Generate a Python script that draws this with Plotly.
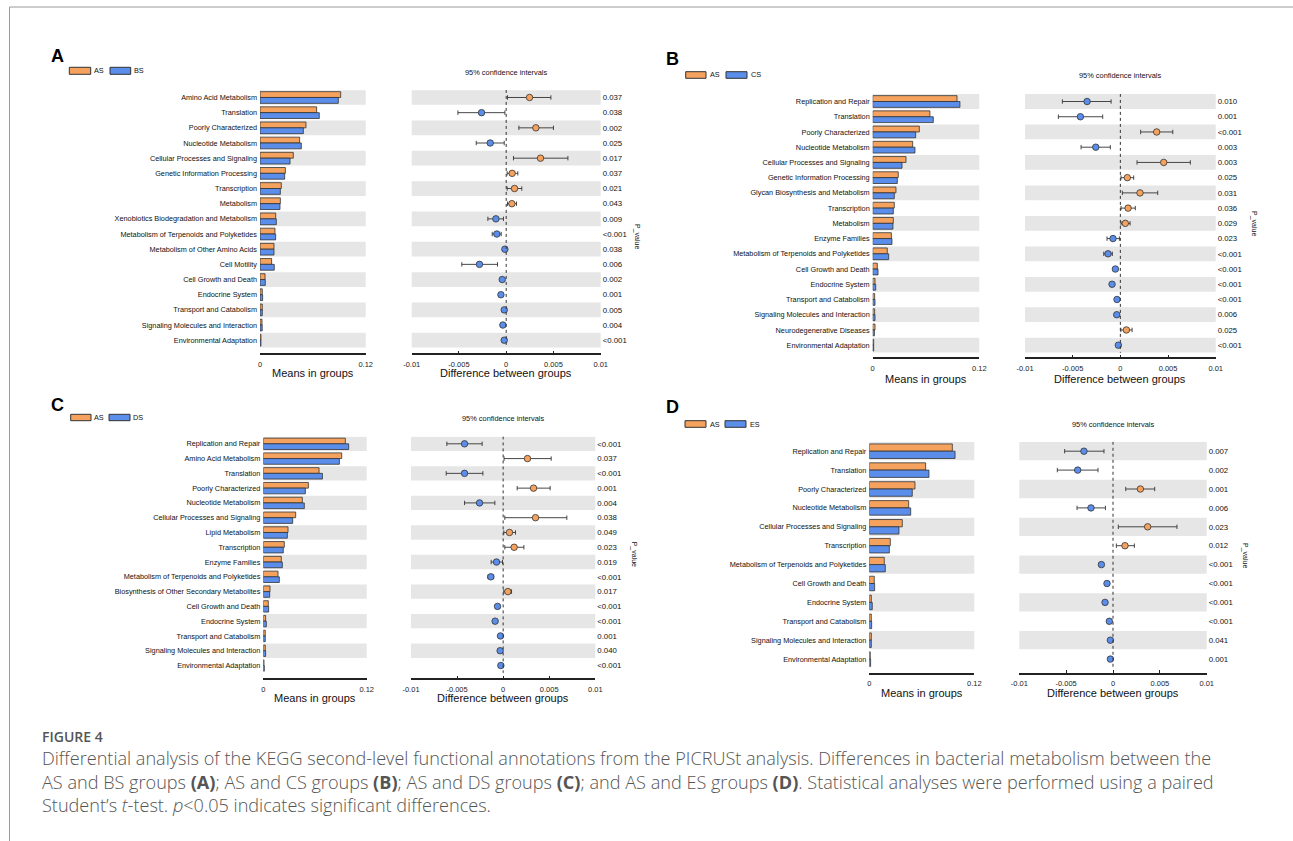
import plotly.graph_objects as go

W, H = 1293, 841
ORANGE = "#F4A25E"
BLUE = "#5B8DEA"
EDGE = "#333333"
STRIPE = "#E6E6E6"
FONT = "Arial, Liberation Sans, sans-serif"

# ---------------- Panel A: AS vs BS ----------------
a_cats = ["Amino Acid Metabolism", "Translation", "Poorly Characterized", "Nucleotide Metabolism",
          "Cellular Processes and Signaling", "Genetic Information Processing", "Transcription",
          "Metabolism", "Xenobiotics Biodegradation and Metabolism",
          "Metabolism of Terpenoids and Polyketides", "Metabolism of Other Amino Acids",
          "Cell Motility", "Cell Growth and Death", "Endocrine System", "Transport and Catabolism",
          "Signaling Molecules and Interaction", "Environmental Adaptation"]
a_as = [0.0916, 0.0643, 0.0522, 0.0450, 0.0378, 0.0288, 0.0242, 0.0231, 0.0178, 0.0170, 0.0159,
        0.0132, 0.0057, 0.0026, 0.0026, 0.0023, 0.0011]
a_bs = [0.0889, 0.0673, 0.0492, 0.0469, 0.0341, 0.0280, 0.0231, 0.0227, 0.0185, 0.0178, 0.0159,
        0.0162, 0.0060, 0.0030, 0.0026, 0.0025, 0.0011]
a_diff = [0.00247, -0.00261, 0.00314, -0.00169, 0.00363, 0.00063, 0.00088, 0.00060, -0.00109,
          -0.00099, -0.00014, -0.00283, -0.00042, -0.00056, -0.00021, -0.00035, -0.00021]
a_lo = [0.00014, -0.00511, 0.00134, -0.00317, 0.00077, 0.00010, 0.00010, 0.00014, -0.00194,
        -0.00148, -0.00022, -0.00470, -0.00052, -0.00066, -0.00029, -0.00045, -0.00029]
a_hi = [0.00473, -0.00014, 0.00500, -0.00021, 0.00653, 0.00123, 0.00165, 0.00109, -0.00029,
        -0.00053, -0.00006, -0.00092, -0.00032, -0.00046, -0.00013, -0.00025, -0.00013]
a_p = ["0.037", "0.038", "0.002", "0.025", "0.017", "0.037", "0.021", "0.043", "0.009", "<0.001",
       "0.038", "0.006", "0.002", "0.001", "0.005", "0.004", "<0.001"]

# ---------------- Panel B: AS vs CS ----------------
b_cats = ["Replication and Repair", "Translation", "Poorly Characterized", "Nucleotide Metabolism",
          "Cellular Processes and Signaling", "Genetic Information Processing",
          "Glycan Biosynthesis and Metabolism", "Transcription", "Metabolism", "Enzyme Families",
          "Metabolism of Terpenoids and Polyketides", "Cell Growth and Death", "Endocrine System",
          "Transport and Catabolism", "Signaling Molecules and Interaction",
          "Neurodegenerative Diseases", "Environmental Adaptation"]
b_as = [0.0949, 0.0644, 0.0525, 0.0450, 0.0375, 0.0288, 0.0262, 0.0243, 0.0232, 0.0210, 0.0164,
        0.0052, 0.0026, 0.0022, 0.0022, 0.0026, 0.0011]
b_cs = [0.0982, 0.0682, 0.0484, 0.0476, 0.0330, 0.0277, 0.0243, 0.0232, 0.0228, 0.0217, 0.0180,
        0.0060, 0.0034, 0.0026, 0.0026, 0.0019, 0.0011]
b_diff = [-0.00349, -0.00419, 0.00381, -0.00258, 0.00455, 0.00073, 0.00206, 0.00081, 0.00052,
          -0.00077, -0.00129, -0.00052, -0.00087, -0.00035, -0.00038, 0.00063, -0.00021]
b_lo = [-0.00608, -0.00650, 0.00213, -0.00412, 0.00175, 0.00007, 0.00021, 0.00007, 0.00007,
        -0.00140, -0.00174, -0.00062, -0.00097, -0.00043, -0.00046, 0.00005, -0.00029]
b_hi = [-0.00097, -0.00185, 0.00550, -0.00105, 0.00734, 0.00140, 0.00392, 0.00157, 0.00102,
        -0.00010, -0.00084, -0.00042, -0.00077, -0.00027, -0.00030, 0.00123, -0.00013]
b_p = ["0.010", "0.001", "<0.001", "0.003", "0.003", "0.025", "0.031", "0.036", "0.029", "0.023",
       "<0.001", "<0.001", "<0.001", "<0.001", "0.006", "0.025", "<0.001"]

# ---------------- Panel C: AS vs DS ----------------
c_cats = ["Replication and Repair", "Amino Acid Metabolism", "Translation", "Poorly Characterized",
          "Nucleotide Metabolism", "Cellular Processes and Signaling", "Lipid Metabolism",
          "Transcription", "Enzyme Families", "Metabolism of Terpenoids and Polyketides",
          "Biosynthesis of Other Secondary Metabolites", "Cell Growth and Death",
          "Endocrine System", "Transport and Catabolism", "Signaling Molecules and Interaction",
          "Environmental Adaptation"]
c_as = [0.0952, 0.0910, 0.0647, 0.0523, 0.0453, 0.0376, 0.0287, 0.0244, 0.0209, 0.0171, 0.0078,
        0.0058, 0.0027, 0.0023, 0.0023, 0.0008]
c_ds = [0.0991, 0.0883, 0.0686, 0.0488, 0.0476, 0.0341, 0.0279, 0.0232, 0.0221, 0.0186, 0.0074,
        0.0062, 0.0035, 0.0023, 0.0027, 0.0012]
c_diff = [-0.00419, 0.00264, -0.00419, 0.00330, -0.00256, 0.00351, 0.00069, 0.00119, -0.00072,
          -0.00134, 0.00051, -0.00061, -0.00087, -0.00029, -0.00033, -0.00025]
c_lo = [-0.00611, 0.00010, -0.00618, 0.00152, -0.00419, 0.00018, 0.00007, 0.00018, -0.00130,
        -0.00165, 0.00007, -0.00071, -0.00097, -0.00037, -0.00041, -0.00033]
c_hi = [-0.00228, 0.00521, -0.00220, 0.00510, -0.00090, 0.00691, 0.00134, 0.00225, -0.00007,
        -0.00103, 0.00091, -0.00051, -0.00077, -0.00021, -0.00025, -0.00017]
c_p = ["<0.001", "0.037", "<0.001", "0.001", "0.004", "0.038", "0.049", "0.023", "0.019", "<0.001",
       "0.017", "<0.001", "<0.001", "0.001", "0.040", "<0.001"]

# ---------------- Panel D: AS vs ES ----------------
d_cats = ["Replication and Repair", "Translation", "Poorly Characterized", "Nucleotide Metabolism",
          "Cellular Processes and Signaling", "Transcription",
          "Metabolism of Terpenoids and Polyketides", "Cell Growth and Death", "Endocrine System",
          "Transport and Catabolism", "Signaling Molecules and Interaction",
          "Environmental Adaptation"]
d_as = [0.0949, 0.0644, 0.0522, 0.0450, 0.0377, 0.0240, 0.0171, 0.0057, 0.0023, 0.0023, 0.0023,
        0.0011]
d_es = [0.0980, 0.0682, 0.0491, 0.0473, 0.0339, 0.0229, 0.0183, 0.0061, 0.0034, 0.0027, 0.0023,
        0.0015]
d_diff = [-0.00310, -0.00377, 0.00292, -0.00235, 0.00370, 0.00128, -0.00124, -0.00064, -0.00085,
          -0.00039, -0.00028, -0.00028]
d_lo = [-0.00516, -0.00594, 0.00136, -0.00384, 0.00057, 0.00036, -0.00132, -0.00072, -0.00093,
        -0.00047, -0.00036, -0.00036]
d_hi = [-0.00096, -0.00160, 0.00445, -0.00081, 0.00683, 0.00228, -0.00116, -0.00056, -0.00077,
        -0.00031, -0.00020, -0.00020]
d_p = ["0.007", "0.002", "0.001", "0.006", "0.023", "0.012", "<0.001", "<0.001", "<0.001",
       "<0.001", "0.041", "0.001"]

bar_ticks = [0, 0.12]
bar_ticktext = ["0", "0.12"]
diff_ticks = [-0.01, -0.005, 0, 0.005, 0.01]
diff_ticktext = ["-0.01", "-0.005", "0", "0.005", "0.01"]

# ---------------- pixel layout of each panel ----------------
panels = [
    dict(letter="A", cats=a_cats, g1=a_as, g2=a_bs, name2="BS", diff=a_diff, lo=a_lo, hi=a_hi, p=a_p,
         let=(52, 56.5), leg_y=(67.3, 74.3), sw1=(69.3, 90.7), t1=94, sw2=(110, 130.7), t2=134,
         bar_x=(260, 365.7), diff_x=(411.7, 600.7), first=97.5, pitch=15.17, axis_y=353.3,
         title_y=373, ci_y=72.3, pv=(637, 236)),
    dict(letter="B", cats=b_cats, g1=b_as, g2=b_cs, name2="CS", diff=b_diff, lo=b_lo, hi=b_hi, p=b_p,
         let=(667, 59), leg_y=(71.7, 78.3), sw1=(685.7, 706), t1=710, sw2=(726, 747), t2=751,
         bar_x=(872.7, 979.3), diff_x=(1025, 1215.7), first=101.5, pitch=15.23, axis_y=357.3,
         title_y=379, ci_y=76, pv=(1254, 223)),
    dict(letter="C", cats=c_cats, g1=c_as, g2=c_ds, name2="DS", diff=c_diff, lo=c_lo, hi=c_hi, p=c_p,
         let=(52, 405), leg_y=(414.3, 420.7), sw1=(70.7, 91), t1=94, sw2=(109, 130), t2=133,
         bar_x=(263.3, 366.7), diff_x=(411, 595.3), first=443.8, pitch=14.78, axis_y=678.3,
         title_y=697.7, ci_y=418.3, pv=(634.3, 554)),
    dict(letter="D", cats=d_cats, g1=d_as, g2=d_es, name2="ES", diff=d_diff, lo=d_lo, hi=d_hi, p=d_p,
         let=(667, 406.5), leg_y=(420.7, 427.3), sw1=(685, 706), t1=710, sw2=(725, 746), t2=750,
         bar_x=(869.3, 974.3), diff_x=(1019.3, 1206.7), first=451.2, pitch=18.9, axis_y=672.7,
         title_y=693.3, ci_y=424.3, pv=(1245, 555)),
]


def px(x):
    return x / W


def py(y):
    return 1 - y / H


def ax_id(i):
    return "" if i == 1 else str(i)


fig = go.Figure()
shapes = []
annotations = []
layout = {}

for k, P in enumerate(panels):
    nb, nd = 2 * k + 1, 2 * k + 2
    xb, yb = "x" + ax_id(nb), "y" + ax_id(nb)
    xd, yd = "x" + ax_id(nd), "y" + ax_id(nd)
    n = len(P["cats"])
    rows = [-i for i in range(n)]
    top = P["first"] - P["pitch"] / 2
    ybottom_val = 0.5 - (P["axis_y"] - top) / P["pitch"]
    ydom = [py(P["axis_y"]), py(top)]

    # bars
    fig.add_trace(go.Bar(x=P["g1"], y=rows, orientation="h", width=0.385, offset=0.0,
                         marker=dict(color=ORANGE, line=dict(color=EDGE, width=0.8)),
                         xaxis=xb, yaxis=yb, showlegend=False, name="AS"))
    fig.add_trace(go.Bar(x=P["g2"], y=rows, orientation="h", width=0.385, offset=-0.385,
                         marker=dict(color=BLUE, line=dict(color=EDGE, width=0.8)),
                         xaxis=xb, yaxis=yb, showlegend=False, name=P["name2"]))
    # difference with CI
    cols = [ORANGE if d > 0 else BLUE for d in P["diff"]]
    fig.add_trace(go.Scatter(
        x=P["diff"], y=rows, mode="markers", xaxis=xd, yaxis=yd, showlegend=False,
        marker=dict(size=6.5, color=cols, line=dict(color=EDGE, width=0.8)),
        error_x=dict(type="data", symmetric=False,
                     array=[h - d for h, d in zip(P["hi"], P["diff"])],
                     arrayminus=[d - l for d, l in zip(P["diff"], P["lo"])],
                     color=EDGE, thickness=0.9, width=2.2)))

    common_x = dict(showgrid=False, zeroline=False, showline=True, linecolor="#222", linewidth=1.5,
                    ticks="inside", ticklen=3, tickwidth=1, tickcolor="#222", automargin=False,
                    tickfont=dict(family=FONT, size=7.5, color="#222"), ticklabelstandoff=3,
                    fixedrange=True)
    layout["xaxis" + ax_id(nb)] = dict(common_x, domain=[px(P["bar_x"][0]), px(P["bar_x"][1])],
                                       range=[0, 0.12], tickvals=bar_ticks,
                                       ticktext=bar_ticktext, anchor=yb)
    layout["xaxis" + ax_id(nd)] = dict(common_x, domain=[px(P["diff_x"][0]), px(P["diff_x"][1])],
                                       range=[-0.01, 0.01], tickvals=diff_ticks,
                                       ticktext=diff_ticktext, anchor=yd)
    layout["yaxis" + ax_id(nb)] = dict(domain=ydom, range=[ybottom_val, 0.5], anchor=xb,
                                       tickvals=rows, ticktext=P["cats"], ticks="",
                                       showgrid=False, zeroline=False, showline=False,
                                       ticklabelstandoff=2, automargin=False,
                                       tickfont=dict(family=FONT, size=7.3, color="#111"),
                                       fixedrange=True)
    layout["yaxis" + ax_id(nd)] = dict(domain=ydom, range=[ybottom_val, 0.5], anchor=xd,
                                       side="right", tickvals=rows,
                                       ticktext=[s.replace("<", "&lt;") for s in P["p"]],
                                       ticks="", showgrid=False, zeroline=False, showline=False,
                                       ticklabelstandoff=1, automargin=False,
                                       tickfont=dict(family=FONT, size=7.8, color="#111"),
                                       fixedrange=True)

    # stripes
    for i in range(0, n, 2):
        for xr, yr in ((xb, yb), (xd, yd)):
            shapes.append(dict(type="rect", xref=f"{xr} domain", yref=yr, x0=0, x1=1,
                               y0=-i - 0.485, y1=-i + 0.485, fillcolor=STRIPE,
                               line=dict(width=0), layer="below"))
    # dashed zero line
    shapes.append(dict(type="line", xref=xd, yref=yd, x0=0, x1=0, y0=0.5, y1=-(n - 1) - 0.5,
                       line=dict(color=EDGE, width=1, dash="dot")))

    # legend swatches
    for (x0, x1), col, lbl, tx in ((P["sw1"], ORANGE, "AS", P["t1"]),
                                   (P["sw2"], BLUE, P["name2"], P["t2"])):
        shapes.append(dict(type="rect", xref="paper", yref="paper", x0=px(x0), x1=px(x1),
                           y0=py(P["leg_y"][1]), y1=py(P["leg_y"][0]), fillcolor=col,
                           line=dict(color=EDGE, width=1)))
        annotations.append(dict(x=px(tx - 2), y=py(sum(P["leg_y"]) / 2), xref="paper",
                                yref="paper", text=lbl, showarrow=False, xanchor="left",
                                yanchor="middle", font=dict(family=FONT, size=7.3, color="#111")))
    # panel letter
    annotations.append(dict(x=px(P["let"][0] - 3), y=py(P["let"][1]), xref="paper", yref="paper",
                            text=f"<b>{P['letter']}</b>", showarrow=False, xanchor="left",
                            yanchor="middle", font=dict(family=FONT, size=18, color="#000")))
    # titles
    annotations.append(dict(x=px((P["diff_x"][0] + P["diff_x"][1]) / 2), y=py(P["ci_y"]),
                            xref="paper", yref="paper", text="95% confidence intervals",
                            showarrow=False, xanchor="center", yanchor="middle",
                            font=dict(family=FONT, size=7.4, color="#111")))
    annotations.append(dict(x=px((P["bar_x"][0] + P["bar_x"][1]) / 2), y=py(P["title_y"]),
                            xref="paper", yref="paper", text="Means in groups", showarrow=False,
                            xanchor="center", yanchor="middle",
                            font=dict(family=FONT, size=11, color="#111")))
    annotations.append(dict(x=px((P["diff_x"][0] + P["diff_x"][1]) / 2), y=py(P["title_y"]),
                            xref="paper", yref="paper", text="Difference between groups",
                            showarrow=False, xanchor="center", yanchor="middle",
                            font=dict(family=FONT, size=11, color="#111")))
    annotations.append(dict(x=px(P["pv"][0]), y=py(P["pv"][1]), xref="paper", yref="paper",
                            text="P_value", showarrow=False, textangle=90, xanchor="center",
                            yanchor="middle", font=dict(family=FONT, size=7, color="#111")))

# frame lines
shapes.append(dict(type="line", xref="paper", yref="paper", x0=px(9.5), x1=1, y0=py(7), y1=py(7),
                   line=dict(color="#9a9a9a", width=1)))
shapes.append(dict(type="line", xref="paper", yref="paper", x0=px(9.5), x1=px(9.5), y0=py(7), y1=0,
                   line=dict(color="#9a9a9a", width=1)))

# caption
CAP = "Open Sans, sans-serif"
caption_lines = [
    "Differential analysis of the KEGG second-level functional annotations from the PICRUSt analysis. "
    "Differences in bacterial metabolism between the",
    "AS and BS groups <b>(A)</b>; AS and CS groups <b>(B)</b>; AS and DS groups <b>(C)</b>; and AS and "
    "ES groups <b>(D)</b>. Statistical analyses were performed using a paired",
    "Student’s <i>t</i>-test. <i>p</i>&lt;0.05 indicates significant differences.",
]
annotations.append(dict(x=px(40), y=py(736), xref="paper", yref="paper", text="FIGURE 4",
                        showarrow=False, xanchor="left", yanchor="middle",
                        font=dict(family=CAP, size=14, color="#555", weight=600)))
for yy, line in zip((758, 781.7, 805), caption_lines):
    annotations.append(dict(x=px(40), y=py(yy), xref="paper", yref="paper", text=line,
                            showarrow=False, xanchor="left", yanchor="middle",
                            font=dict(family=CAP, size=18.1, color="#555", weight=300)))

fig.update_layout(
    width=W, height=H, margin=dict(l=0, r=0, t=0, b=0, pad=0, autoexpand=False),
    paper_bgcolor="white", plot_bgcolor="white",
    shapes=shapes, annotations=annotations, showlegend=False,
    font=dict(family=FONT),
    **layout,
)

fig.write_html("out.html", config={"displayModeBar": False},
               post_script="document.body.style.margin='0';document.body.style.padding='0';")
